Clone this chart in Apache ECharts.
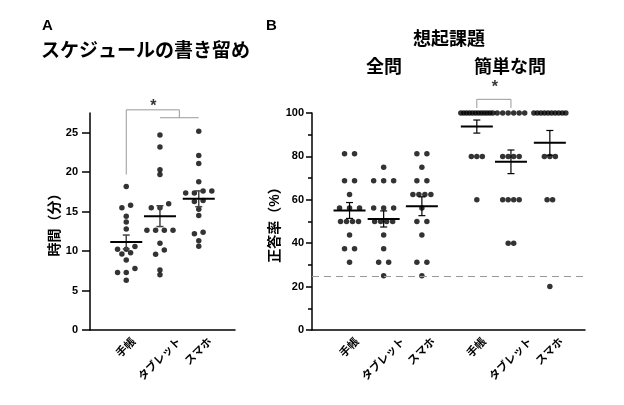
<!DOCTYPE html>
<html>
<head>
<meta charset="utf-8">
<script src="https://cdn.jsdelivr.net/npm/echarts@6/dist/echarts.min.js"></script>
<style>
  html, body { margin: 0; padding: 0; background: #fff; }
  #chart { width: 624px; height: 405px; }
</style>
</head>
<body>
<div id="chart"></div>
<script>
const categories = ['手帳', 'タブレット', 'スマホ']

// A: スケジュールの書き留め (分)
const notebookTime = [18.2, 15.8, 15.5, 14.4, 13.7, 12.8, 10.58, 10.24, 10.24, 9.8, 9.64, 8.88, 7.8, 7.3, 7.3, 6.3]
const tabletTime = [24.7, 23.2, 20.3, 19.7, 16.0, 15.5, 15.5, 12.65, 12.65, 12.65, 12.65, 11.0, 10.15, 9.6, 7.6, 7.0]
const phoneTime = [25.2, 22.1, 21.1, 18.8, 17.6, 17.6, 17.35, 17.35, 16.4, 16.3, 15.3, 14.5, 12.4, 12.2, 11.3, 10.6]

// B: 想起課題 正答率 (%) - 全問
const allNotebook = [81.25, 81.25, 68.75, 68.75, 62.5, 56.25, 56.25, 56.25, 50, 50, 50, 50, 43.75, 37.5, 37.5, 31.25]
const allTablet = [75, 68.75, 68.75, 68.75, 56.25, 56.25, 56.25, 50, 50, 50, 50, 43.75, 37.5, 31.25, 31.25, 25]
const allPhone = [81.25, 81.25, 75, 68.75, 68.75, 62.5, 62.5, 62.5, 62.5, 56.25, 50, 50, 43.75, 31.25, 31.25, 25]
// B - 簡単な問
const easyNotebook = [100, 100, 100, 100, 100, 100, 100, 100, 100, 100, 100, 100, 80, 80, 80, 60]
const easyTablet = [100, 100, 100, 100, 100, 100, 80, 80, 80, 80, 60, 60, 60, 60, 40, 40]
const easyPhone = [100, 100, 100, 100, 100, 100, 100, 100, 100, 100, 80, 80, 80, 60, 60, 20]

const yTicksA = [0, 5, 10, 15, 20, 25]
const chanceLevel = 25

// layout
const FONT = '"Liberation Sans", "Noto Sans CJK JP", sans-serif'
const gridA = { left: 90, top: 113, width: 145, height: 217 }
const gridB = { left: 312, top: 113, width: 273, height: 217 }
const xMaxA = 4
const xMaxB = 8
const yMaxA = 27.5
const posA = [1, 1.93, 3]
const posB = [1.1, 2.1, 3.22, 4.83, 5.83, 6.97]
const pxX_A = gridA.width / xMaxA
const pxY_A = gridA.height / yMaxA
const pxX_B = gridB.width / xMaxB

const mean = a => a.reduce((s, v) => s + v, 0) / a.length
const sem = a => {
  const m = mean(a)
  const v = a.reduce((s, x) => s + (x - m) * (x - m), 0) / (a.length - 1)
  return Math.sqrt(v / a.length)
}

// spread dots of (nearly) equal value sideways, in pixels
function rowOffsets (values, pxPerUnit, gapPx, spacing) {
  const idx = values.map((v, i) => i).sort((a, b) => values[a] - values[b])
  const rows = []
  idx.forEach(i => {
    const row = rows[rows.length - 1]
    if (row && (values[i] - values[row[0]]) * pxPerUnit <= gapPx) row.push(i)
    else rows.push([i])
  })
  const most = Math.max(...rows.map(r => r.length))
  const off = []
  rows.forEach(r => {
    const s = spacing(r.length, most)
    r.forEach((i, j) => { off[i] = (j - (r.length - 1) / 2) * s })
  })
  return off
}

const spacingA = () => 8.7
const spacingB = (n, most) => most > 5 ? Math.min(5.5, 32 / (n - 1)) : (n <= 3 ? 10 : 6)

function dots (values, x, pxX, pxY, gap, spacing) {
  const off = rowOffsets(values, pxY, gap, spacing)
  return values.map((v, i) => [x + off[i] / pxX, v])
}

// rotated labels: centre of the text sits under the column
const ctx = document.createElement('canvas').getContext('2d')
ctx.font = 'bold 11px ' + FONT
function labelPositions (pos, pxX) {
  return pos.map((p, i) => {
    const w = ctx.measureText(categories[i % 3]).width
    return p + (w * Math.SQRT1_2 / 2) / pxX
  })
}
const labelPosA = labelPositions(posA, pxX_A)
const labelPosB = labelPositions(posB, pxX_B)
const labelFor = list => v => {
  const i = list.findIndex(p => Math.abs(p - v) < 1e-6)
  return i < 0 ? '' : categories[i % 3]
}

const groupsA = [notebookTime, tabletTime, phoneTime]
const groupsB = [allNotebook, allTablet, allPhone, easyNotebook, easyTablet, easyPhone]

function meanBars (barColor, barWidth) {
  return function (params, api) {
    const x = api.value(0)
    const m = api.value(1)
    const e = api.value(2)
    const c = api.coord([x, m])
    const hi = api.coord([x, m + e])
    const lo = api.coord([x, m - e])
    const bar = { stroke: barColor, lineWidth: barWidth }
    return {
      type: 'group',
      children: [
        { type: 'line', shape: { x1: c[0], y1: hi[1], x2: c[0], y2: lo[1] }, style: bar },
        { type: 'line', shape: { x1: c[0] - 3.5, y1: hi[1], x2: c[0] + 3.5, y2: hi[1] }, style: bar },
        { type: 'line', shape: { x1: c[0] - 3.5, y1: lo[1], x2: c[0] + 3.5, y2: lo[1] }, style: bar },
        { type: 'line', shape: { x1: c[0] - 16, y1: c[1], x2: c[0] + 16, y2: c[1] }, style: { stroke: '#000', lineWidth: 2 } }
      ]
    }
  }
}

const axisLine = { show: true, onZero: false, lineStyle: { color: '#000', width: 1.5 } }
const tickLabel = { color: '#000', fontSize: 11, fontWeight: 'bold', fontFamily: FONT }
const axisName = { color: '#000', fontSize: 14, fontWeight: 'bold', fontFamily: FONT }
const bracketStyle = { color: '#999', width: 1 }
const DOT = 5.5

const series = []
groupsA.forEach((g, i) => {
  series.push({
    type: 'scatter', xAxisIndex: 0, yAxisIndex: 0, symbolSize: DOT,
    itemStyle: { color: '#000' }, silent: true,
    data: dots(g, posA[i], pxX_A, pxY_A, 4.5, spacingA)
  })
})
series.push({
  type: 'custom', xAxisIndex: 0, yAxisIndex: 0, z: 5, silent: true,
  renderItem: meanBars('#444', 1.5),
  data: groupsA.map((g, i) => [posA[i], mean(g), sem(g)])
})
const midA = (posA[1] + posA[2]) / 2
series.push({
  type: 'line', xAxisIndex: 0, yAxisIndex: 0, clip: false, symbol: 'none', silent: true,
  lineStyle: bracketStyle,
  data: [[posA[0], 19.7], [posA[0], 27.9], [midA, 27.9], [midA, 26.9]]
})
series.push({
  type: 'line', xAxisIndex: 0, yAxisIndex: 0, clip: false, symbol: 'none', silent: true,
  lineStyle: bracketStyle,
  data: [[posA[1], 26.9], [posA[2], 26.9]]
})
series.push({
  type: 'scatter', xAxisIndex: 0, yAxisIndex: 0, clip: false, symbolSize: 0, silent: true,
  label: { show: true, position: 'inside', formatter: '*', fontSize: 16, fontWeight: 'bold', color: '#000', fontFamily: FONT },
  data: [[1.75, 28.26]]
})

groupsB.forEach((g, i) => {
  series.push({
    type: 'scatter', xAxisIndex: 1, yAxisIndex: 1, symbolSize: DOT,
    itemStyle: { color: '#000' }, silent: true,
    data: dots(g, posB[i], pxX_B, gridB.height / 100, 0.5, spacingB),
    markLine: i === 0 ? {
      silent: true, symbol: 'none', label: { show: false },
      lineStyle: { color: '#999', width: 1, type: [7, 5] },
      data: [{ yAxis: chanceLevel }]
    } : undefined
  })
})
series.push({
  type: 'custom', xAxisIndex: 1, yAxisIndex: 1, z: 5, silent: true,
  renderItem: meanBars('#000', 1.2),
  data: groupsB.map((g, i) => [posB[i], mean(g), sem(g)])
})
series.push({
  type: 'line', xAxisIndex: 1, yAxisIndex: 1, clip: false, symbol: 'none', silent: true,
  lineStyle: bracketStyle,
  data: [[posB[3], 102.3], [posB[3], 106.3], [posB[4], 106.3], [posB[4], 102.3]]
})
series.push({
  type: 'scatter', xAxisIndex: 1, yAxisIndex: 1, clip: false, symbolSize: 0, silent: true,
  label: { show: true, position: 'inside', formatter: '*', fontSize: 16, fontWeight: 'bold', color: '#000', fontFamily: FONT },
  data: [[5.36, 111.5]]
})

const titleText = (text, x, y, size, align) => ({
  type: 'text', x, y, silent: true,
  style: { text, fill: '#000', fontSize: size, fontWeight: 'bold', fontFamily: FONT, align: align || 'left', verticalAlign: 'middle' }
})

const option = {
  animation: false,
  backgroundColor: '#fff',
  grid: [gridA, gridB],
  xAxis: [
    {
      gridIndex: 0, type: 'value', min: 0, max: xMaxA,
      axisLine, axisTick: { show: false }, splitLine: { show: false },
      axisLabel: Object.assign({ customValues: labelPosA, formatter: labelFor(labelPosA), rotate: 45, margin: 10 }, tickLabel)
    },
    {
      gridIndex: 1, type: 'value', min: 0, max: xMaxB,
      axisLine, axisTick: { show: false }, splitLine: { show: false },
      axisLabel: Object.assign({ customValues: labelPosB, formatter: labelFor(labelPosB), rotate: 45, margin: 10 }, tickLabel)
    }
  ],
  yAxis: [
    {
      gridIndex: 0, type: 'value', min: 0, max: yMaxA,
      name: '時間（分）', nameLocation: 'middle', nameGap: 25,
      nameTextStyle: axisName,
      axisLine,
      axisTick: { show: true, length: 8, customValues: yTicksA, lineStyle: { color: '#000', width: 1.5 } },
      axisLabel: Object.assign({ customValues: yTicksA, margin: 12 }, tickLabel),
      splitLine: { show: false }
    },
    {
      gridIndex: 1, type: 'value', min: 0, max: 100, interval: 20,
      name: '正答率（%）', nameLocation: 'middle', nameGap: 29,
      nameTextStyle: axisName,
      axisLine,
      axisTick: { show: true, length: 6, lineStyle: { color: '#000', width: 1.5 } },
      minorTick: { show: true, splitNumber: 2, length: 4, lineStyle: { color: '#000', width: 1.5 } },
      axisLabel: Object.assign({ margin: 8 }, tickLabel),
      splitLine: { show: false }
    }
  ],
  graphic: [
    titleText('A', 42, 26, 15),
    titleText('スケジュールの書き留め', 41, 52, 19),
    titleText('B', 266, 26, 15),
    titleText('想起課題', 449, 40, 18, 'center'),
    titleText('全問', 384, 68, 18, 'center'),
    titleText('簡単な問', 510, 68, 18, 'center')
  ],
  series
}

const chart = echarts.init(document.getElementById('chart'))
chart.setOption(option)
</script>
</body>
</html>
